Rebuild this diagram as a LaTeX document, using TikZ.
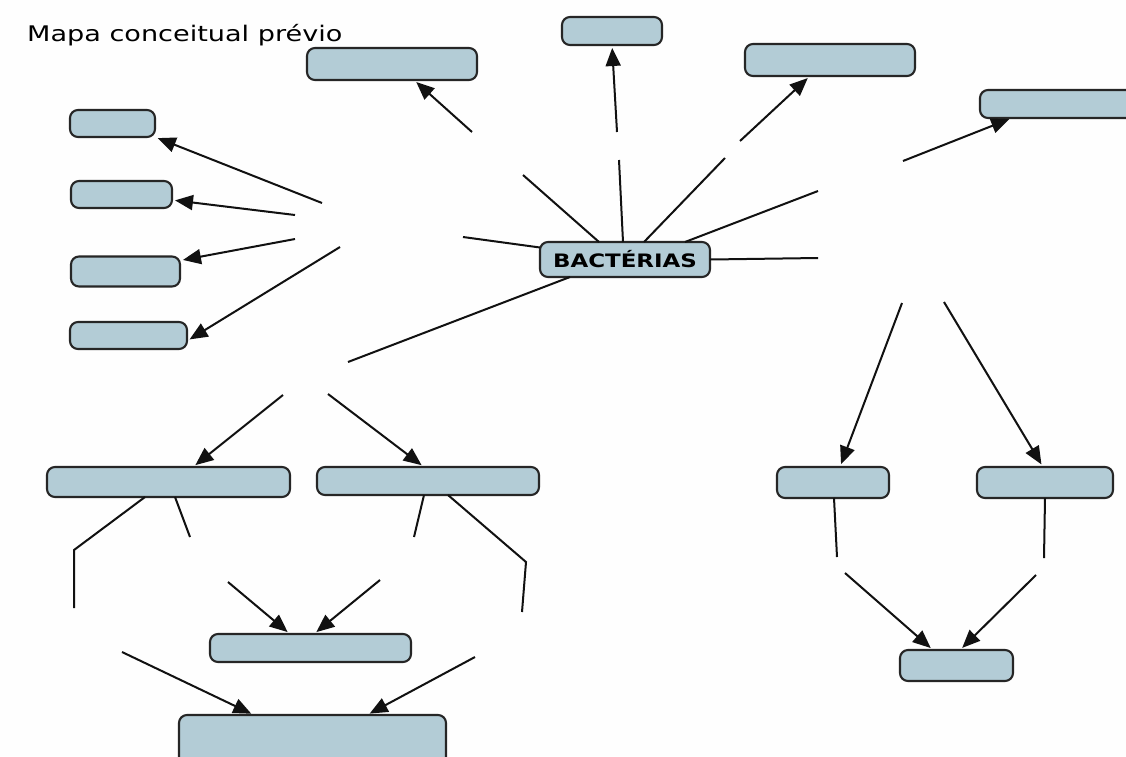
\documentclass[tikz,border=0pt]{standalone}
\usepackage{fontspec}
\setmainfont{DejaVu Sans}
\usetikzlibrary{arrows.meta}
\definecolor{boxfill}{HTML}{B3CCD6}
\definecolor{boxline}{HTML}{262626}
\definecolor{paper}{HTML}{FEFEFE}
\definecolor{ink}{HTML}{111111}
\begin{document}
\begin{tikzpicture}[x=1pt,y=-1pt,
  concept/.style={draw=boxline, line width=2.1pt, fill=boxfill, rounded corners=8pt,
    inner sep=0pt, outer sep=0pt},
  link/.style={line width=2pt, draw=ink},
  arrowlink/.style={link, -{Triangle[length=18pt,width=15pt]}, shorten >=3pt},
]
\useasboundingbox (0,0) rectangle (1126,756);
\fill[paper] (0,0) rectangle (1126,756);
\begin{scope}
\clip (0,0) rectangle (1126,756);

% title
\node[anchor=base west, inner sep=0pt, font=\fontsize{21.5}{24}\selectfont] (title)
  at (27,41) {\scalebox{1.26}[1]{Mapa conceitual prévio}};

% central concept
\node[concept, minimum width=170pt, minimum height=35pt,
  font=\fontsize{18.5}{20}\selectfont\bfseries] (bact) at (625,259.5)
  {\scalebox{1.24}[1]{BACTÉRIAS}};

% upper concepts
\node[concept, minimum width=170pt, minimum height=32pt] (A) at (392,64) {};
\node[concept, minimum width=100pt, minimum height=28pt] (B) at (612,31) {};
\node[concept, minimum width=170pt, minimum height=32pt] (C) at (830,60) {};
\node[concept, minimum width=170pt, minimum height=28pt] (D) at (1065,104) {};

% left column
\node[concept, minimum width=85pt,  minimum height=27pt] (L1) at (112.5,123.5) {};
\node[concept, minimum width=101pt, minimum height=27pt] (L2) at (121.5,194.5) {};
\node[concept, minimum width=109pt, minimum height=30pt] (L3) at (125.5,271.5) {};
\node[concept, minimum width=117pt, minimum height=27pt] (L4) at (128.5,335.5) {};

% lower left branch
\node[concept, minimum width=243pt, minimum height=30pt] (LB1) at (168.5,482) {};
\node[concept, minimum width=222pt, minimum height=28pt] (LB2) at (428,481) {};
\node[concept, minimum width=201pt, minimum height=28pt] (LB3) at (310.5,648) {};
\node[concept, minimum width=267pt, minimum height=65pt] (LB4) at (312.5,747.5) {};

% lower right branch
\node[concept, minimum width=112pt, minimum height=31pt] (R1) at (833,482.5) {};
\node[concept, minimum width=136pt, minimum height=31pt] (R2) at (1045,482.5) {};
\node[concept, minimum width=113pt, minimum height=31pt] (R3) at (956.5,665.5) {};

% ends of the links (linking phrases left blank)
\coordinate (kA) at (523,175);
\coordinate (kB) at (619,160);
\coordinate (kC) at (725,158);
\coordinate (kD) at (818,191);
\coordinate (kL) at (463,237);
\coordinate (kR) at (818,258);
\coordinate (kS) at (348,362);

\coordinate (tA) at (472,132);
\coordinate (tB) at (617,132);
\coordinate (tC) at (740,141);
\coordinate (tD) at (903,161);
\coordinate (tL1) at (322,203);
\coordinate (tL2) at (295,215);
\coordinate (tL3) at (295,239);
\coordinate (tL4) at (340,247);
\coordinate (tS1) at (283,395);
\coordinate (tS2) at (328,394);
\coordinate (tR1) at (902,303);
\coordinate (tR2) at (944,302);

\coordinate (p1a) at (74,550);
\coordinate (p1b) at (74,608);
\coordinate (p2) at (190,537);
\coordinate (p3) at (414,537);
\coordinate (p4a) at (526,562);
\coordinate (p4b) at (522,612);
\coordinate (q1) at (228,582);
\coordinate (q2) at (380,580);
\coordinate (q3) at (122,652);
\coordinate (q4) at (475,657);
\coordinate (r1) at (837,557);
\coordinate (r2) at (1044,558);
\coordinate (s1) at (845,573);
\coordinate (s2) at (1036,575);

% links out of the central concept
\draw[link] ([xshift=-26pt]bact.north) -- (kA);
\draw[link] ([xshift=-2pt]bact.north) -- (kB);
\draw[link] ([xshift=19pt]bact.north) -- (kC);
\draw[link] ([xshift=60pt]bact.north) -- (kD);
\draw[link] ([yshift=12pt]bact.west) -- (kL);
\draw[link] (bact.east) -- (kR);
\draw[link] ([xshift=-55pt]bact.south) -- (kS);

% arrows to the upper concepts
\draw[arrowlink] (tA) -- ([xshift=22pt]A.south);
\draw[arrowlink] (tB) -- (B.south);
\draw[arrowlink] (tC) -- ([xshift=-20pt]C.south);
\draw[arrowlink] (tD) -- ([xshift=32pt]D.south west);

% arrows to the left column
\draw[arrowlink] (tL1) -- (L1.south east);
\draw[arrowlink] (tL2) -- ([yshift=-5.5pt]L2.east);
\draw[arrowlink] (tL3) -- ([yshift=11pt]L3.east);
\draw[arrowlink] (tL4) -- ([yshift=-5.5pt]L4.east);

% lower left branch
\draw[arrowlink] (tS1) -- ([xshift=24.5pt]LB1.north);
\draw[arrowlink] (tS2) -- ([xshift=-4pt]LB2.north);
\draw[link] ([xshift=-23.5pt]LB1.south) -- (p1a) -- (p1b);
\draw[link] ([xshift=6.5pt]LB1.south) -- (p2);
\draw[link] ([xshift=-4pt]LB2.south) -- (p3);
\draw[link] ([xshift=20pt]LB2.south) -- (p4a) -- (p4b);
\draw[arrowlink] (q1) -- ([xshift=-20.5pt]LB3.north);
\draw[arrowlink] (q2) -- ([xshift=3.5pt]LB3.north);
\draw[arrowlink] (q3) -- ([xshift=-58.5pt]LB4.north);
\draw[arrowlink] (q4) -- ([xshift=54.5pt]LB4.north);

% lower right branch
\draw[arrowlink] (tR1) -- ([xshift=7pt]R1.north);
\draw[arrowlink] (tR2) -- ([xshift=-2pt]R2.north);
\draw[link] ([xshift=1pt]R1.south) -- (r1);
\draw[link] (R2.south) -- (r2);
\draw[arrowlink] (s1) -- ([xshift=-23.5pt]R3.north);
\draw[arrowlink] (s2) -- ([xshift=3.5pt]R3.north);
\end{scope}
\end{tikzpicture}
\end{document}
